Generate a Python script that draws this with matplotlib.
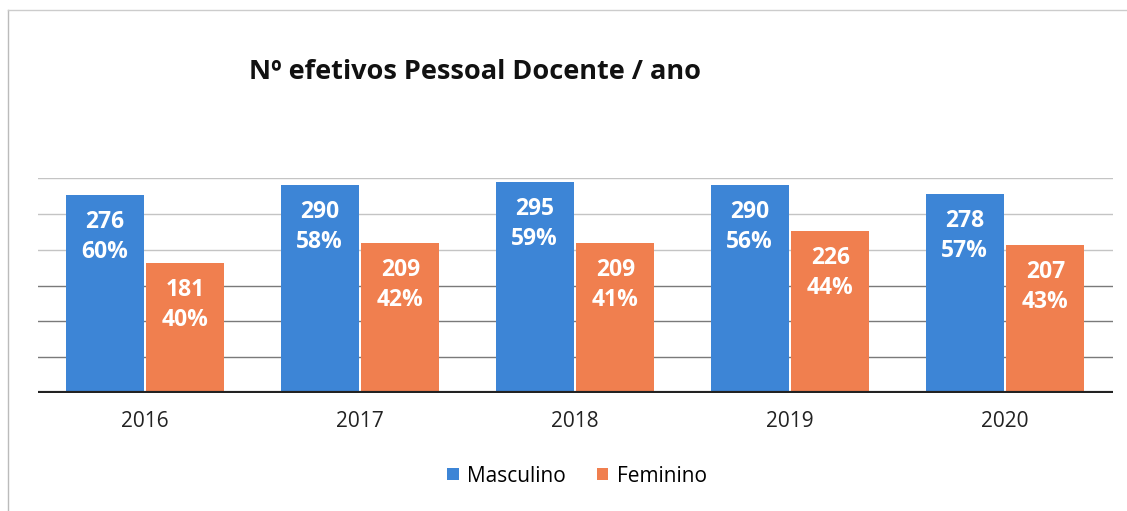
import matplotlib
matplotlib.use("Agg")
import matplotlib.pyplot as plt
import numpy as np

years = ["2016", "2017", "2018", "2019", "2020"]
masculino = [276, 290, 295, 290, 278]
feminino = [181, 209, 209, 226, 207]
pct_masc = ["60%", "58%", "59%", "56%", "57%"]
pct_fem = ["40%", "42%", "41%", "44%", "43%"]

plt.rcParams['font.family'] = ['Open Sans', 'DejaVu Sans']

W, H = 1127, 511
fig = plt.figure(figsize=(W/100, H/100), dpi=100, facecolor='white')
ax = fig.add_axes([37.5/W, 1-393/H, (1112.5-37.5)/W, (393-178)/H])
ax.set_facecolor('none')

blue = '#3d85d6'
orange = '#f07f4f'
x = np.arange(len(years))
bw = 0.363
gap = 0.006
b1 = ax.bar(x - bw/2 - gap, masculino, bw, color=blue, label='Masculino', zorder=3)
b2 = ax.bar(x + bw/2 + gap, feminino, bw, color=orange, label='Feminino', zorder=3)

ax.set_xlim(-0.5, len(years)-0.5)
ax.set_ylim(0, 300)
for yv in [50, 100, 150, 200, 250, 300]:
    ax.axhline(yv, color='#7a7a7a' if yv <= 150 else '#c4c4c4', lw=1.0, zorder=1)
ax.axhline(0, color='#222222', lw=3, zorder=4)

for bars, vals, pcts in [(b1, masculino, pct_masc), (b2, feminino, pct_fem)]:
    for r, v, p in zip(bars, vals, pcts):
        cx = r.get_x() + r.get_width()/2
        ax.annotate(str(v), (cx, v), xytext=(0, -27), textcoords='offset pixels',
                    ha='center', va='center', color='white', fontsize=16.5,
                    fontweight='bold', zorder=5)
        ax.annotate(p, (cx, v), xytext=(0, -57), textcoords='offset pixels',
                    ha='center', va='center', color='white', fontsize=16.5,
                    fontweight='bold', zorder=5)

ax.set_xticks(x)
ax.set_xticklabels(years, fontsize=15, color='#222222')
ax.tick_params(axis='x', length=0, pad=13)
ax.set_yticks([])
for s in ax.spines.values():
    s.set_visible(False)

fig.text(475/W, 1-72/H, "Nº efetivos Pessoal Docente / ano", ha='center', va='center',
         fontsize=19.5, fontweight='bold', color='#111111')

leg = fig.legend(handles=[b1, b2], loc='center', bbox_to_anchor=(577/W, 1-476/H),
                 ncol=2, frameon=False, fontsize=15, handlelength=0.55,
                 handleheight=0.55, columnspacing=1.5, handletextpad=0.4)

# chart border lines (scan frame)
fig.add_artist(plt.Line2D([8/W, 8/W], [0, 1-10/H], color='#bbbbbb', lw=1, transform=fig.transFigure))
fig.add_artist(plt.Line2D([8/W, 1], [1-10/H, 1-10/H], color='#cccccc', lw=1, transform=fig.transFigure))

fig.savefig("out.png", dpi=100, facecolor='white')
